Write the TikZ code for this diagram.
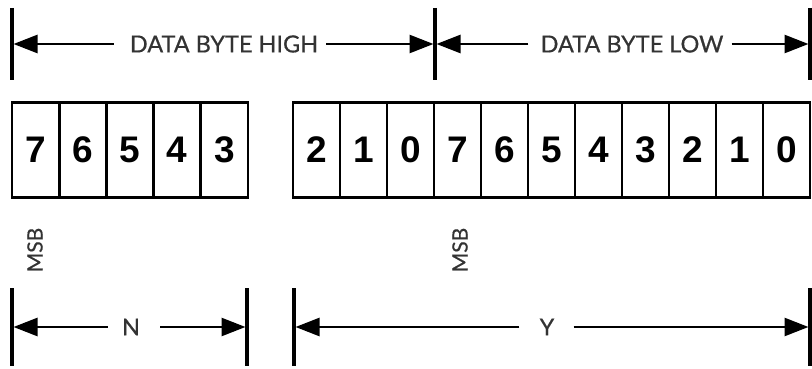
\documentclass[tikz,border=0pt]{standalone}
\usepackage{fontspec}
\setmainfont{Lato}[FakeBold=0.6]
\newfontfamily\digitfont{Liberation Sans}
\usetikzlibrary{arrows.meta}
\definecolor{txtgray}{HTML}{333333}
\begin{document}
\begin{tikzpicture}[x=1pt,y=-1pt,
  cell/.style={draw=black, line width=2.8pt, minimum height=95pt, inner sep=0pt,
    font=\digitfont\bfseries\fontsize{37}{37}\selectfont},
  lbl/.style={text=txtgray, inner sep=0pt, font=\fontsize{23.5}{23.5}\selectfont},
  msblbl/.style={text=txtgray, inner sep=0pt, rotate=90, font=\fontsize{21}{21}\selectfont},
  tick/.style={line width=3.6pt},
  dim/.style={line width=2.6pt, -{Triangle[length=24pt,width=18pt]}, shorten >=1.5pt}
]
\useasboundingbox (0,0) rectangle (812,369);

% bit cells, high byte part
\foreach \d [count=\i from 0] in {7,6,5,4,3}{
  \node[cell, minimum width=47.2pt] (h\i) at ({12+47.2*(\i+0.5)},150) {\d};
}
% bit cells, remaining high bits + low byte
\foreach \d [count=\i from 0] in {2,1,0,7,6,5,4,3,2,1,0}{
  \node[cell, minimum width=47pt] (l\i) at ({293+47*(\i+0.5)},150) {\d};
}

% top dimension ticks
\coordinate (ta1) at (12,8);   \coordinate (tb1) at (12,80);
\coordinate (ta2) at (435,8);  \coordinate (tb2) at (435,80);
\coordinate (ta3) at (810,8);  \coordinate (tb3) at (810,80);
\draw[tick] (ta1) -- (tb1);
\draw[tick] (ta2) -- (tb2);
\draw[tick] (ta3) -- (tb3);
\coordinate (t1) at (12,44);
\coordinate (t2) at (435,44);
\coordinate (t3) at (810,44);

\node[lbl] (hi) at (224,44) {DATA BYTE HIGH};
\node[lbl] (lo) at (632,44) {DATA BYTE LOW};
\draw[dim] ([xshift=-16pt]hi.west) -- (t1);
\draw[dim] ([xshift=8pt]hi.east) -- (t2);
\draw[dim] ([xshift=-12pt]lo.west) -- (t2);
\draw[dim] ([xshift=8pt]lo.east) -- (t3);

% MSB labels
\node[msblbl] (msb1) at (35,250) {MSB};
\node[msblbl] (msb2) at (460,250) {MSB};

% bottom dimension ticks
\coordinate (ba1) at (12,288);  \coordinate (bb1) at (12,366);
\coordinate (ba2) at (247,288); \coordinate (bb2) at (247,366);
\coordinate (ba3) at (294,288); \coordinate (bb3) at (294,366);
\coordinate (ba4) at (810,288); \coordinate (bb4) at (810,366);
\draw[tick] (ba1) -- (bb1);
\draw[tick] (ba2) -- (bb2);
\draw[tick] (ba3) -- (bb3);
\draw[tick] (ba4) -- (bb4);
\coordinate (b1) at (12,327);
\coordinate (b2) at (247,327);
\coordinate (b3) at (294,327);
\coordinate (b4) at (810,327);

\node[lbl] (n) at (131,327) {N};
\node[lbl] (y) at (547,327) {Y};
\draw[dim] ([xshift=-14pt]n.west) -- (b1);
\draw[dim] ([xshift=20pt]n.east) -- (b2);
\draw[dim] ([xshift=-20pt]y.west) -- (b3);
\draw[dim] ([xshift=19pt]y.east) -- (b4);
\end{tikzpicture}
\end{document}
